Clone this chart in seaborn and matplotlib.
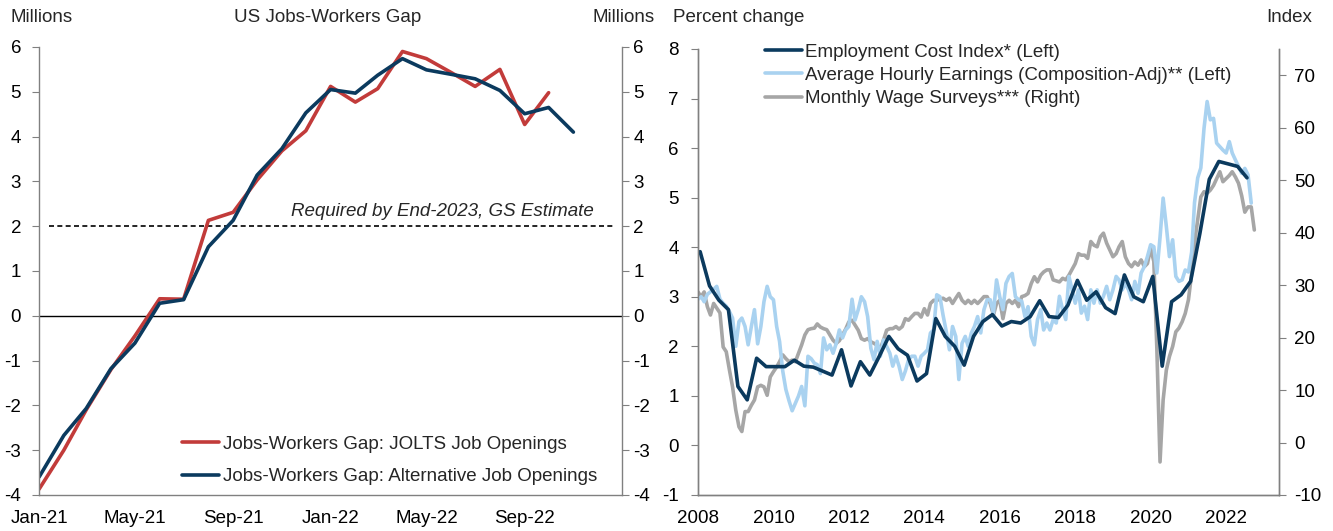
#!/usr/bin/env python3

import matplotlib
matplotlib.use("Agg")
import matplotlib.pyplot as plt
import matplotlib.transforms as mtransforms
import numpy as np
import pandas as pd
import seaborn as sns

sns.set_style("white")
plt.rcParams['font.family'] = ['Liberation Sans', 'DejaVu Sans']
plt.rcParams['font.size'] = 13.5
plt.rcParams['axes.unicode_minus'] = False

FS = 13.5
RED = '#C23B3A'
NAVY = '#0B3A5E'
LIGHT = '#A9D2F0'
GREY = '#A6A6A6'
SPINE = '#808080'

# ---- left panel: jobs-workers gap (millions), monthly from Jan-21
jolts_gap = [-3.87, -3.0, -2.1, -1.2, -0.45, 0.38, 0.37, 2.13, 2.31, 3.03, 3.68,
             4.13, 5.12, 4.77, 5.07, 5.90, 5.74, 5.43, 5.12, 5.50, 4.27, 4.98]
alt_gap = [-3.6, -2.67, -2.07, -1.18, -0.61, 0.28, 0.36, 1.54, 2.13, 3.14, 3.73,
           4.53, 5.05, 4.97, 5.37, 5.74, 5.49, 5.39, 5.29, 5.03, 4.51, 4.65, 4.10]
gap_ticks = ['2021-01', '2021-05', '2021-09', '2022-01', '2022-05', '2022-09', '2023-01']
required_gap = 2.0

# ---- right panel: wage trackers, from 2008
eci = [3.91, 3.22, 2.93, 2.74,
       1.19, 0.92, 1.76, 1.59,
       1.59, 1.59, 1.72, 1.60,
       1.58, 1.50, 1.42, 1.93,
       1.20, 1.69, 1.42, 1.80,
       2.20, 1.95, 1.82, 1.30,
       1.45, 2.56, 2.20, 2.00,
       1.62, 2.20, 2.50, 2.64,
       2.41, 2.50, 2.47, 2.60,
       2.92, 2.60, 2.58, 2.83,
       3.33, 2.93, 3.10, 2.78,
       2.66, 3.44, 3.00, 2.90,
       3.41, 1.60, 2.90, 3.04,
       3.31, 4.28, 5.37, 5.73,
       5.68, 5.63, 5.40]

ahe = [2.95, 3.0, 2.9, 3.05, 3.1, 3.15, 3.21, 2.95, 2.87, 2.81, 2.7, 2.57,
       2.0, 2.5, 2.57, 2.4, 2.03, 2.4, 2.74, 2.05, 2.4, 2.9, 3.21, 3.0,
       2.94, 2.4, 2.1, 1.5, 1.13, 0.9, 0.7, 0.85, 1.0, 1.19, 0.8, 1.8,
       1.75, 1.66, 1.63, 1.45, 2.17, 1.93, 2.03, 1.86, 2.06, 2.33, 2.17, 2.33,
       2.4, 2.95, 2.53, 2.74, 3.0, 2.9, 2.6, 1.96, 1.73, 2.1, 1.8, 2.13,
       2.0, 1.86, 1.6, 1.8, 1.6, 1.33, 1.5, 1.73, 1.8, 1.8, 1.6, 1.8,
       1.86, 1.93, 2.27, 2.33, 3.04, 3.0, 2.63, 2.3, 1.93, 2.4, 2.2, 1.33,
       2.06, 2.2, 2.0, 2.27, 2.4, 2.6, 2.27, 2.74, 2.94, 2.94, 2.67, 3.34,
       3.0, 2.74, 3.27, 3.41, 3.47, 3.0, 2.94, 2.91, 2.6, 2.8, 2.2, 2.03,
       2.54, 2.74, 2.33, 2.47, 2.33, 2.54, 2.47, 3.01, 2.74, 2.54, 3.41, 3.14,
       2.87, 3.14, 2.67, 2.81, 2.54, 3.14, 2.87, 3.14, 2.87, 3.01, 3.21, 2.94,
       3.14, 3.41, 3.34, 3.14, 3.27, 3.14, 2.94, 3.31, 3.07, 3.48, 3.61, 3.81,
       4.05, 4.01, 3.48, 4.2, 4.99, 4.42, 3.81, 4.15, 3.41, 3.31, 3.34, 3.54,
       3.5, 3.9, 4.9, 5.4, 5.6, 6.4, 6.94, 6.57, 6.6, 6.1, 6.03, 5.96,
       5.9, 6.13, 5.9, 5.76, 5.63, 5.49, 5.59, 5.46, 4.89]

surveys = [28.7, 27.8, 28.7, 25.9, 24.3, 26.5, 25.6, 24.7, 18.2, 17.3, 13.8, 10.6,
           6.2, 3.0, 2.1, 5.9, 5.9, 7.1, 8.1, 10.6, 10.9, 10.6, 9.0, 12.5,
           13.5, 14.4, 15.4, 16.7, 16.0, 15.4, 15.7, 15.4, 17.0, 18.6, 20.5, 21.5,
           21.7, 21.8, 22.6, 22.0, 21.7, 21.5, 20.5, 19.5, 18.9, 19.4, 20.5, 21.6,
           23.0, 23.3, 22.4, 21.4, 19.8, 19.5, 19.8, 19.2, 18.9, 18.5, 17.9, 19.5,
           21.4, 21.7, 21.7, 22.1, 21.6, 22.1, 23.6, 23.3, 24.0, 24.6, 24.6, 23.9,
           25.5, 24.3, 26.5, 27.1, 27.1, 27.3, 27.5, 27.1, 27.5, 26.5, 27.5, 28.4,
           27.1, 26.5, 27.1, 26.5, 27.1, 26.5, 27.1, 27.8, 27.8, 26.5, 24.3, 26.5,
           27.1, 23.6, 26.5, 27.1, 26.5, 27.1, 25.9, 27.8, 28.0, 28.4, 30.3, 31.6,
           30.6, 31.9, 32.5, 32.9, 32.9, 31.0, 30.8, 30.6, 31.3, 31.0, 31.9, 33.0,
           34.1, 36.0, 35.7, 35.7, 35.1, 38.3, 37.6, 37.3, 39.2, 39.9, 38.0, 36.7,
           35.4, 36.0, 37.3, 38.3, 35.4, 34.1, 33.5, 34.4, 33.8, 34.8, 33.5, 34.1,
           37.0, 34.5, 18.0, -3.7, 8.1, 13.8, 16.4, 18.3, 21.1, 21.8, 23.0, 24.6,
           27.2, 32.2, 38.0, 42.4, 46.8, 47.8, 47.5, 48.1, 49.0, 50.3, 51.6, 49.7,
           50.3, 50.9, 51.6, 50.6, 49.4, 47.0, 43.9, 44.9, 44.9, 40.5]

wage_years = [2008, 2010, 2012, 2014, 2016, 2018, 2020, 2022]

gap_df = pd.DataFrame({'date': pd.date_range('2021-01-01', periods=len(alt_gap), freq='MS'),
                       'alt': alt_gap})
jolts_df = pd.DataFrame({'date': pd.date_range('2021-01-01', periods=len(jolts_gap), freq='MS'),
                         'jolts': jolts_gap})
eci_df = pd.DataFrame({'date': pd.date_range('2008-01-01', periods=len(eci), freq='QS') + pd.Timedelta(days=21),
                       'eci': eci})
ahe_df = pd.DataFrame({'date': pd.date_range('2008-01-01', periods=len(ahe), freq='MS'), 'ahe': ahe})
srv_df = pd.DataFrame({'date': pd.date_range('2008-01-01', periods=len(surveys), freq='MS'), 'srv': surveys})


def style_axis(ax, left_pad=9):
    for s in ax.spines.values():
        s.set_color(SPINE)
        s.set_linewidth(1)
    ax.spines['top'].set_visible(False)
    ax.tick_params(axis='both', which='major', direction='out', length=5,
                   color=SPINE, labelcolor='black', labelsize=FS)
    ax.tick_params(axis='x', pad=6)
    ax.tick_params(axis='y', which='major', pad=left_pad)
    ax.set_xlabel(None)
    ax.set_ylabel(None)


fig = plt.figure(figsize=(13.33, 5.31), dpi=100)

# ---------------- left panel
ax1 = fig.add_axes([0.0293, 0.0678, 0.4374, 0.8437])
ax1.axhline(0, color='black', lw=1, zorder=1)
ax1.axhline(required_gap, xmin=0.017, xmax=0.986, color='black', lw=1.2, ls=(0, (3, 2)), zorder=1)
sns.lineplot(ax=ax1, data=jolts_df, x='date', y='jolts', color=RED, lw=2.6, label='Jobs-Workers Gap: JOLTS Job Openings')
sns.lineplot(ax=ax1, data=gap_df, x='date', y='alt', color=NAVY, lw=2.6, label='Jobs-Workers Gap: Alternative Job Openings')
ax1.set_ylim(-4, 6)
ax1.set_yticks(range(-4, 7))
ticks = pd.to_datetime(gap_ticks)
ax1.set_xlim(ticks[0], ticks[-1])
ax1.set_xticks(ticks)
ax1.set_xticklabels([t.strftime('%b-%y') for t in ticks[:-1]] + [''])
style_axis(ax1, left_pad=8)
ax1.spines['right'].set_visible(False)
ax1.legend(loc='lower left', bbox_to_anchor=(0.245, 0.022), frameon=False, handlelength=2.0,
           handletextpad=0.2, labelspacing=0.8, borderpad=0, borderaxespad=0, fontsize=FS)
trans = mtransforms.blended_transform_factory(ax1.transAxes, ax1.transData)
ax1.text(0.952, 2.32, 'Required by End-2023, GS Estimate', transform=trans, ha='right', va='center',
         style='italic', fontsize=FS)

ax1r = ax1.twinx()
ax1r.set_ylim(-4, 6)
ax1r.set_yticks(range(-4, 7))
style_axis(ax1r)
ax1r.tick_params(axis='y', pad=3)
ax1r.spines['left'].set_visible(False)
ax1r.spines['bottom'].set_visible(False)

fig.text(10 / 1333, 1 - 17 / 531, 'Millions', ha='left', va='center', fontsize=FS)
fig.text(328 / 1333, 1 - 18 / 531, 'US Jobs-Workers Gap', ha='center', va='center', fontsize=FS)
fig.text(655 / 1333, 1 - 17 / 531, 'Millions', ha='right', va='center', fontsize=FS)

# ---------------- right panel
ax2 = fig.add_axes([0.5236, 0.0678, 0.4359, 0.840])
ax2r = ax2.twinx()
ax2.set_zorder(ax2r.get_zorder() + 1)
ax2.patch.set_visible(False)

sns.lineplot(ax=ax2r, data=srv_df, x='date', y='srv', color=GREY, lw=2.6, legend=False)
sns.lineplot(ax=ax2, data=ahe_df, x='date', y='ahe', color=LIGHT, lw=2.6, legend=False)
sns.lineplot(ax=ax2, data=eci_df, x='date', y='eci', color=NAVY, lw=2.6, legend=False)

ax2.set_ylim(-1, 8)
ax2.set_yticks(range(-1, 9))
ax2r.set_ylim(-10, 75)
ax2r.set_yticks(range(-10, 71, 10))
yt = pd.to_datetime([f'{y}-01-01' for y in wage_years])
ax2.set_xlim(pd.Timestamp('2008-01-01'), pd.Timestamp('2023-05-28'))
ax2.set_xticks(yt)
ax2.set_xticklabels([str(y) for y in wage_years])
style_axis(ax2, left_pad=9)
style_axis(ax2r)
ax2r.tick_params(axis='y', pad=6)

h_eci = ax2.lines[-1]
h_ahe = ax2.lines[-2]
h_srv = ax2r.lines[-1]
ax2.legend([h_eci, h_ahe, h_srv],
           ['Employment Cost Index* (Left)', 'Average Hourly Earnings (Composition-Adj)** (Left)',
            'Monthly Wage Surveys*** (Right)'],
           loc='upper left', bbox_to_anchor=(0.115, 1.012), frameon=False, handlelength=2.0,
           handletextpad=0.15, labelspacing=0.33, borderpad=0, borderaxespad=0, fontsize=FS)

fig.text(673 / 1333, 1 - 17 / 531, 'Percent change', ha='left', va='center', fontsize=FS)
fig.text(1312 / 1333, 1 - 17 / 531, 'Index', ha='right', va='center', fontsize=FS)

fig.savefig('out.png', dpi=100)
